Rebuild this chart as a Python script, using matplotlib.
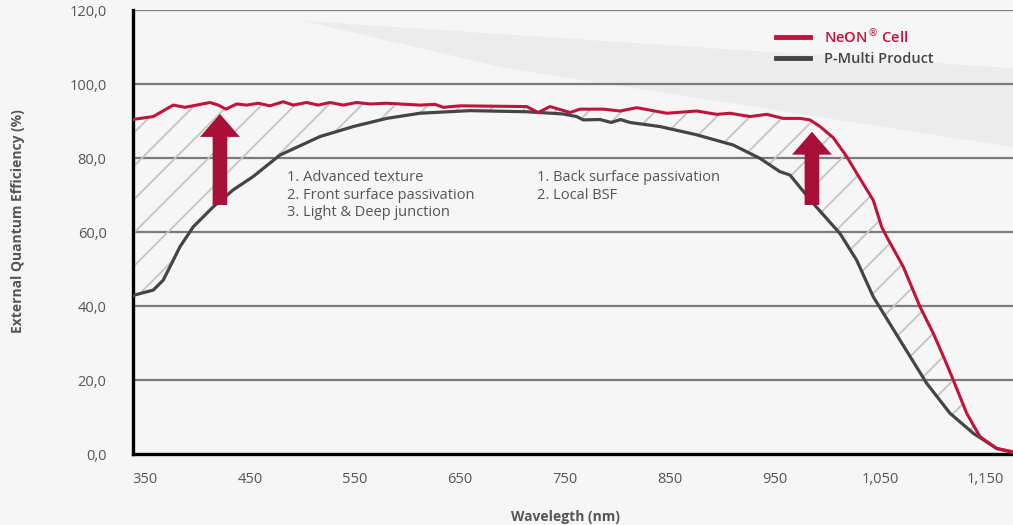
import matplotlib
matplotlib.use("Agg")
import matplotlib.pyplot as plt
from matplotlib.lines import Line2D
from matplotlib.patches import Polygon
import numpy as np

# NeON cell EQE curve (wavelength nm, %)
neon_wl = [338.6, 340.5, 357.9, 376.9, 388.1, 399.2, 411.9, 419.8, 427.1, 437.3,
           446.9, 457.9, 469.0, 481.7, 491.2, 504.0, 515.0, 526.2, 538.9, 551.6,
           564.3, 580.2, 611.9, 626.2, 634.1, 650.0, 713.5, 724.6, 735.7, 754.8,
           764.3, 786.5, 802.4, 818.3, 846.9, 875.4, 894.5, 907.1, 926.2, 942.1,
           957.9, 973.8, 983.3, 992.9, 1005.5, 1018.3, 1027.8, 1043.6, 1051.6, 1056.4,
           1072.2, 1088.1, 1100.8, 1111.9, 1119.8, 1132.6, 1145.2, 1161.1, 1176.7]
neon_eqe = [90.3, 90.5, 91.2, 94.3, 93.7, 94.3, 95.0, 94.3, 93.2, 94.6,
            94.3, 94.8, 94.1, 95.2, 94.3, 95.0, 94.3, 95.0, 94.3, 95.0,
            94.6, 94.8, 94.3, 94.5, 93.7, 94.1, 93.9, 92.3, 93.9, 92.3,
            93.2, 93.2, 92.7, 93.6, 92.1, 92.7, 91.8, 92.1, 91.2, 91.8,
            90.7, 90.7, 90.3, 88.5, 85.5, 80.4, 75.9, 68.6, 61.4, 58.7,
            50.6, 39.8, 32.6, 25.4, 20.0, 11.0, 4.7, 1.5, 0.6]

# P-Multi product EQE curve
pmulti_wl = [338.6, 340.5, 357.9, 367.4, 373.8, 383.3, 396.0, 405.5, 415.0, 434.1,
             453.1, 478.6, 516.7, 548.4, 580.2, 611.9, 659.5, 713.5, 748.4, 761.1,
             767.4, 783.3, 794.0, 803.0, 812.0, 840.5, 875.0, 910.3, 935.7, 954.8,
             964.3, 986.5, 1011.9, 1027.8, 1043.6, 1069.0, 1094.5, 1116.7, 1138.9, 1161.1,
             1176.7]
pmulti_eqe = [42.7, 43.0, 44.3, 47.0, 50.6, 56.0, 61.4, 64.1, 66.8, 71.4,
              75.0, 80.8, 85.8, 88.5, 90.7, 92.1, 92.8, 92.5, 91.9, 91.2,
              90.3, 90.4, 89.6, 90.4, 89.6, 88.5, 86.3, 83.5, 79.9, 76.3,
              75.4, 67.7, 59.6, 52.4, 42.5, 30.8, 19.1, 11.0, 5.6, 1.5,
              0.4]

x_ticks = [350, 450, 550, 650, 750, 850, 950, 1050, 1150]
x_tick_labels = ["350", "450", "550", "650", "750", "850", "950", "1,050", "1,150"]
y_ticks = [0, 20, 40, 60, 80, 100, 120]
y_tick_labels = ["0,0", "20,0", "40,0", "60,0", "80,0", "100,0", "120,0"]

# improvement arrows: (wavelength, from %, to %)
arrows = [(421.4, 67.3, 91.9), (985.2, 67.3, 87.1)]

notes_front = "1. Advanced texture\n2. Front surface passivation\n3. Light & Deep junction"
notes_back = "1. Back surface passivation\n2. Local BSF"

RED = "#c0143c"
ARROW_RED = "#a8103a"
GRAY = "#454545"
TEXT = "#555555"

plt.rcParams["font.family"] = ["Open Sans", "DejaVu Sans"]
plt.rcParams["hatch.linewidth"] = 1.3

fig = plt.figure(figsize=(10.13, 5.25), dpi=100, facecolor="#f6f6f6")

# faint swoosh in the background
band = Polygon([(0.30, 0.96), (1.0, 0.87), (1.0, 0.72), (0.50, 0.87)],
               closed=True, transform=fig.transFigure, facecolor="#ececec",
               edgecolor="none", zorder=-5)
fig.patches.append(band)

ax = fig.add_axes([133 / 1013, 71 / 525, 880 / 1013, 444 / 525])
ax.set_facecolor("none")
ax.set_zorder(1)

# hatched gap between the two curves
poly_x = np.concatenate([neon_wl, pmulti_wl[::-1]])
poly_y = np.concatenate([neon_eqe, pmulti_eqe[::-1]])
ax.fill(poly_x, poly_y, facecolor="none", edgecolor="#c4c4c4", lw=0,
        hatch="/", zorder=1)

for y in y_ticks[1:]:
    ax.axhline(y, color="#7a7a7a", lw=1.6, zorder=0.5)

ax.plot(pmulti_wl, pmulti_eqe, color=GRAY, lw=2.3, zorder=3)
ax.plot(neon_wl, neon_eqe, color=RED, lw=2.2, zorder=4)

for wl, y0, y1 in arrows:
    ax.arrow(wl, y0, 0, y1 - y0, width=13.9, head_width=38, head_length=6.2,
             length_includes_head=True, color=ARROW_RED, lw=0, zorder=5)

ax.text(485.2, 76.8, notes_front, fontsize=10.5, color=TEXT, va="top",
        linespacing=1.25, zorder=6)
ax.text(723.3, 76.8, notes_back, fontsize=10.5, color=TEXT, va="top",
        linespacing=1.25, zorder=6)

ax.set_xlim(338.6, 1176.7)
ax.set_ylim(0, 120)
ax.set_xticks(x_ticks)
ax.set_xticklabels(x_tick_labels)
ax.set_yticks(y_ticks)
ax.set_yticklabels(y_tick_labels)
ax.tick_params(length=0, labelsize=10.5, labelcolor=TEXT)
ax.tick_params(axis="x", pad=13)
ax.tick_params(axis="y", pad=19)

for side in ["top", "right"]:
    ax.spines[side].set_visible(False)
ax.spines["left"].set_linewidth(2.4)
ax.spines["bottom"].set_linewidth(2.4)
ax.spines["left"].set_color("black")
ax.spines["bottom"].set_color("black")

fig.text(565 / 1013, 1 - 517 / 525, "Wavelegth (nm)", ha="center", va="center",
         fontsize=10, fontweight="bold", color=TEXT)
fig.text(18 / 1013, 1 - 221 / 525, "External Quantum Efficiency (%)", ha="center",
         va="center", rotation=90, fontsize=10, fontweight="bold", color=TEXT)

handles = [Line2D([], [], color=RED, lw=3.5), Line2D([], [], color=GRAY, lw=3.5)]
leg = ax.legend(handles, ["NeON$^{\u00ae}$ Cell", "P-Multi Product"], loc="upper left",
                bbox_to_anchor=(763 / 1013, 1 - 13 / 525), bbox_transform=fig.transFigure,
                frameon=False, handlelength=2.3, handletextpad=1.0, labelspacing=0.45,
                prop={"size": 10.5, "weight": "semibold"})
leg.get_texts()[0].set_color(RED)
leg.get_texts()[1].set_color(GRAY)

fig.savefig("out.png", dpi=100, facecolor=fig.get_facecolor())
